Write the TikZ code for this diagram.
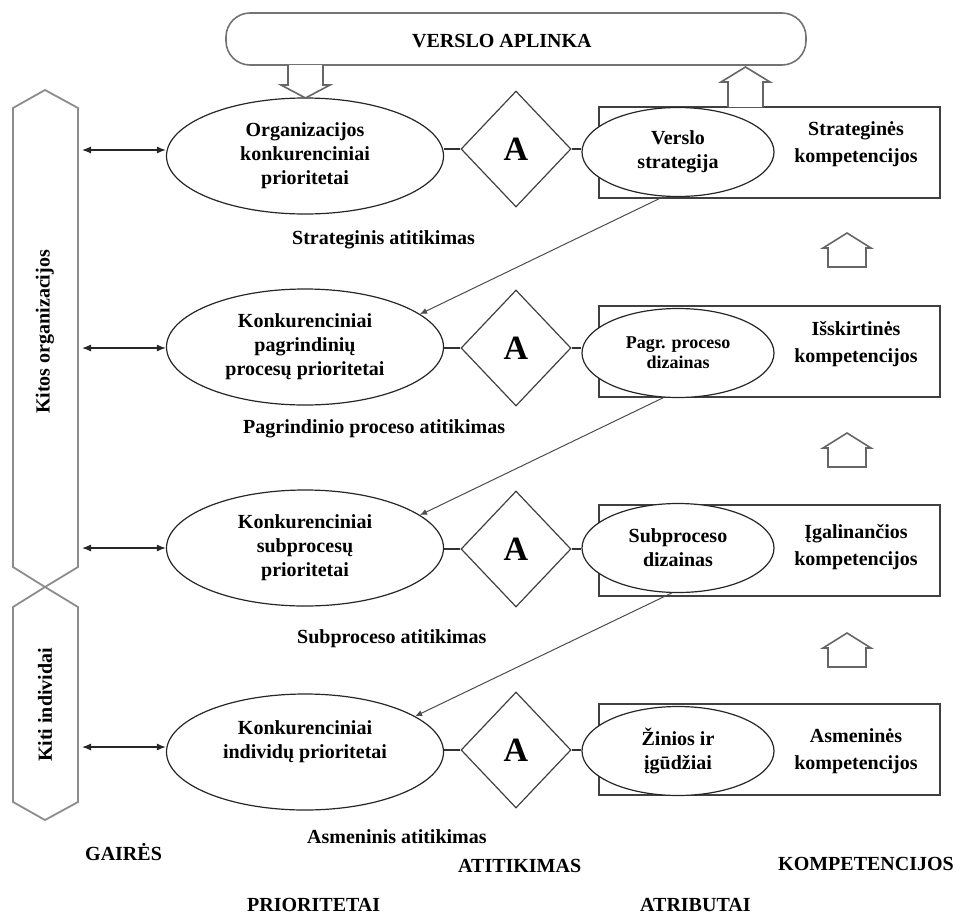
\documentclass[tikz,border=0pt]{standalone}
\usepackage{fontspec}
\setmainfont{Liberation Serif}
\usetikzlibrary{shapes.geometric,arrows.meta,calc}
\begin{document}
\begin{tikzpicture}[x=1pt,y=-1pt,
  font=\bfseries\fontsize{20}{24}\selectfont,
  prio/.style={ellipse,draw=black!85,line width=1.2pt,minimum width=277pt,
    minimum height=116pt,inner sep=0pt,align=center,fill=white},
  attr/.style={ellipse,draw=black!85,line width=1.2pt,minimum width=192pt,
    minimum height=89pt,inner sep=0pt,align=center,fill=white},
  match/.style={diamond,draw=black!75,line width=1.2pt,minimum width=110pt,
    minimum height=116pt,inner sep=0pt,fill=white,
    font=\bfseries\fontsize{34}{34}\selectfont},
  comp/.style={rectangle,draw=black!75,line width=1.5pt,minimum width=341pt,
    minimum height=91pt,inner sep=0pt},
  ctext/.style={align=center,font=\bfseries\fontsize{20}{27}\selectfont},
  hex/.style={draw=black!45,line width=1.8pt,line join=miter},
  block/.style={draw=black!60,line width=1.6pt,fill=white,line join=miter},
  link/.style={draw=black!80,line width=1.2pt},
  dbl/.style={draw=black!85,line width=1.2pt,
    {Latex[length=9pt,width=7pt]}-{Latex[length=9pt,width=7pt]}},
  feed/.style={draw=black!70,line width=1pt,-{Latex[length=7pt,width=6pt]}},
  lbl/.style={anchor=base west,inner sep=0pt},
  hollowup/.pic={\draw[block] (-19,34) -- (-19,15) -- (-24,15) -- (0,0)
    -- (24,15) -- (19,15) -- (19,34) -- cycle;}
]
\useasboundingbox (0,0) rectangle (960,918);

% outer environment banner
\node[draw=black!55,line width=1.6pt,rounded corners=24pt,minimum width=580pt,
  minimum height=52pt,inner sep=0pt] (env) at (516,39) {};
\node[lbl] (envtext) at (412,47) {VERSLO APLINKA};

% guideline columns on the left
\draw[hex] (13,108) -- (45,90) -- (78,108) -- (78,567) -- (45,587)
  -- (13,567) -- cycle;
\draw[hex] (13,607) -- (45,587) -- (78,607) -- (78,802) -- (45,820)
  -- (13,802) -- cycle;
\node[rotate=90] (orgs) at (45,332) {Kitos organizacijos};
\node[rotate=90] (indiv) at (45,705) {Kiti individai};

% competence boxes
\node[comp] (r1) at (769.5,152.5) {};
\node[comp] (r2) at (769.5,351.5) {};
\node[comp] (r3) at (769.5,550.5) {};
\node[comp] (r4) at (769.5,749.5) {};
\node[ctext] (r1t) at (856,144) {Strateginės\\kompetencijos};
\node[ctext] (r2t) at (856,344) {Išskirtinės\\kompetencijos};
\node[ctext] (r3t) at (856,547) {Įgalinančios\\kompetencijos};
\node[ctext] (r4t) at (856,751) {Asmeninės\\kompetencijos};

% attributes
\node[attr] (v1) at (678,152) {Verslo\\strategija};
\node[attr,font=\bfseries\fontsize{18}{20}\selectfont] (v2) at (678,353) {Pagr. proceso\\dizainas};
\node[attr] (v3) at (678,548) {Subproceso\\dizainas};
\node[attr] (v4) at (678,751) {Žinios ir\\įgūdžiai};

% priorities
\node[prio] (o1) at (305,156) {Organizacijos\\konkurenciniai\\prioritetai};
\node[prio] (o2) at (305,347) {Konkurenciniai\\pagrindinių\\procesų prioritetai};
\node[prio] (o3) at (305,548) {Konkurenciniai\\subprocesų\\prioritetai};
\node[prio] (o4) at (305,752) {};
\node[align=center] (o4t) at (305,742) {Konkurenciniai\\individų prioritetai};

% alignment diamonds
\node[match] (d1) at (516,149) {A};
\node[match] (d2) at (516,348) {A};
\node[match] (d3) at (516,549) {A};
\node[match] (d4) at (516,750) {A};

% block arrows between banner and the top row
\draw[block] (288,65) -- (288,85) -- (281,85) -- (305.5,98) -- (330,85)
  -- (323,85) -- (323,65);
\draw[block] (728,107) -- (728,82) -- (721,82) -- (745.5,67) -- (770,82)
  -- (763,82) -- (763,107);

% competence build-up arrows
\pic at (847,233) {hollowup};
\pic at (847,433) {hollowup};
\pic at (847,633) {hollowup};

% links priority -- diamond -- attribute
\foreach \i in {1,2,3,4}{
  \draw[link] (o\i.east |- d\i.west) -- (d\i.west);
  \draw[link] (d\i.east) -- (d\i.east -| v\i.west);
}

% links to the guideline columns
\coordinate (g1) at (82,150);
\coordinate (g2) at (82,348);
\coordinate (g3) at (82,548);
\coordinate (g4) at (82,747);
\foreach \i in {1,2,3,4}{
  \draw[dbl] (g\i) -- (g\i -| o\i.west);
}

% cascade from attributes to the next level of priorities
\draw[feed] (v1.252) -- (o2.16);
\draw[feed] (v2.252) -- (o3.16);
\draw[feed] (v3.262) -- (o4.18);

% fit labels
\node[lbl] (fit1) at (292,244) {Strateginis atitikimas};
\node[lbl] (fit2) at (243,433) {Pagrindinio proceso atitikimas};
\node[lbl] (fit3) at (297,643) {Subproceso atitikimas};
\node[lbl] (fit4) at (307,843) {Asmeninis atitikimas};

% column headings
\node[lbl] (h1) at (85,860) {GAIRĖS};
\node[lbl] (h2) at (247,911) {PRIORITETAI};
\node[lbl] (h3) at (458,872) {ATITIKIMAS};
\node[lbl] (h4) at (640,911) {ATRIBUTAI};
\node[lbl] (h5) at (778,870) {KOMPETENCIJOS};
\end{tikzpicture}
\end{document}
